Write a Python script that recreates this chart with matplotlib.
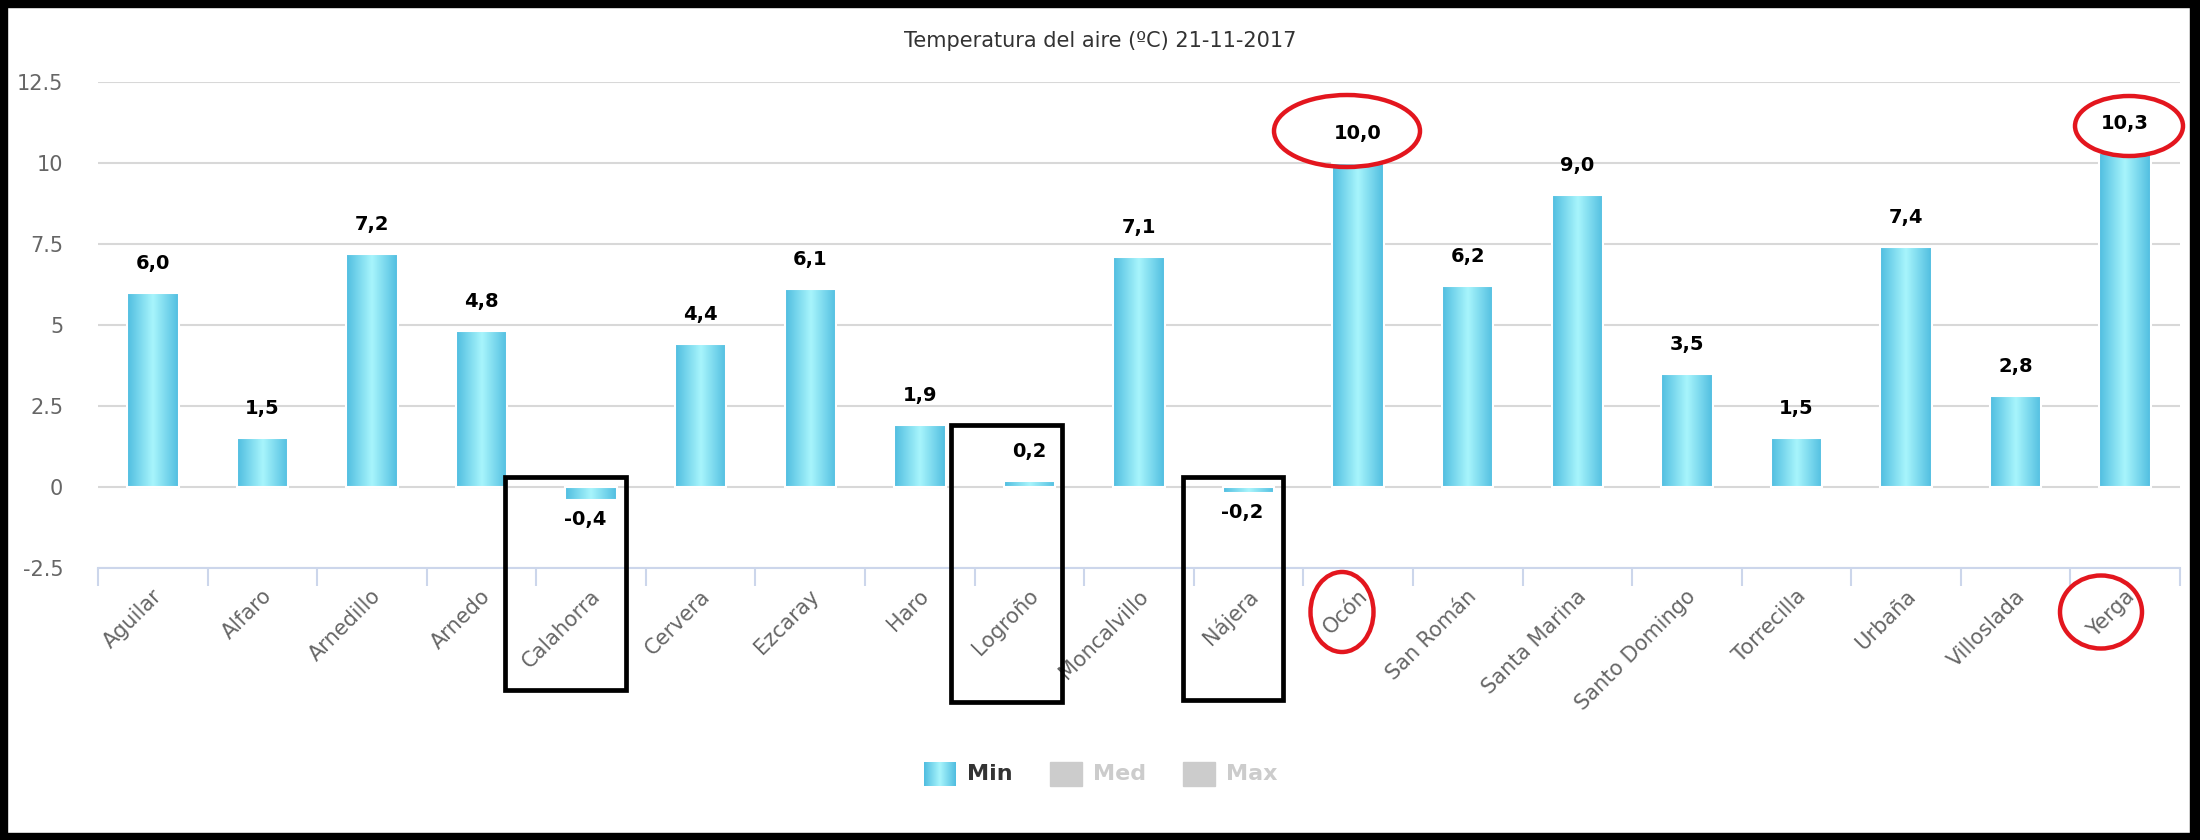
import numpy as np
import matplotlib
matplotlib.use("Agg")
import matplotlib.pyplot as plt
from matplotlib.patches import Rectangle, Ellipse
from matplotlib.colors import LinearSegmentedColormap
from matplotlib.transforms import ScaledTranslation

plt.rcParams['axes.unicode_minus'] = False
plt.rcParams['font.family'] = ['DejaVu Sans']

title = "Temperatura del aire (ºC) 21-11-2017"
stations = ["Aguilar", "Alfaro", "Arnedillo", "Arnedo", "Calahorra", "Cervera",
            "Ezcaray", "Haro", "Logroño", "Moncalvillo", "Nájera", "Ocón",
            "San Román", "Santa Marina", "Santo Domingo", "Torrecilla", "Urbaña",
            "Villoslada", "Yerga"]
t_min = [6.0, 1.5, 7.2, 4.8, -0.4, 4.4, 6.1, 1.9, 0.2, 7.1, -0.2, 10.0,
         6.2, 9.0, 3.5, 1.5, 7.4, 2.8, 10.3]
series_names = ["Min", "Med", "Max"]
y_ticks = [-2.5, 0, 2.5, 5, 7.5, 10, 12.5]

W, H = 2200, 840
edge_c, mid_c = '#4fbde0', '#a8f5fc'
grad = LinearSegmentedColormap.from_list("bar", [(0, edge_c), (0.5, mid_c), (1, edge_c)])
gvals = np.linspace(0, 1, 128).reshape(1, -1)

fig = plt.figure(figsize=(W / 100, H / 100), dpi=100)
fig.patch.set_facecolor('white')
ax = fig.add_axes([98 / W, 1 - 568 / H, (2180 - 98) / W, (568 - 82) / H])

x = np.arange(len(stations))
bar_w = 0.47
# gradient bars
for i, v in enumerate(t_min):
    ax.imshow(gvals, cmap=grad, aspect='auto', interpolation='bilinear',
              extent=[i - bar_w / 2, i + bar_w / 2, min(0, v), max(0, v)], zorder=2)
ax.bar(x, t_min, width=bar_w, facecolor='none', edgecolor='white', linewidth=1.5, zorder=3)

# value labels
for i, v in enumerate(t_min):
    txt = f"{v:.1f}".replace(".", ",")
    if v >= 0:
        ax.annotate(txt, (i, v), xytext=(0, 20), textcoords='offset pixels',
                    ha='center', va='bottom', fontsize=14, fontweight='bold', color='black')
    else:
        ax.annotate(txt, (i, v), xytext=(-6, -10), textcoords='offset pixels',
                    ha='center', va='top', fontsize=14, fontweight='bold', color='black')

ax.set_xlim(-0.5, len(stations) - 0.5)
ax.set_ylim(-2.5, 12.5)
ax.set_yticks(y_ticks)
ax.set_yticklabels([f"{t:g}" for t in y_ticks], fontsize=15, color='#666666')
ax.tick_params(axis='y', length=0, pad=25)
ax.yaxis.grid(True, color='#d8d8d8', linewidth=1.5)
ax.set_axisbelow(True)

ax.set_xticks(x)
ax.set_xticklabels(stations, rotation=45, ha='right', va='center',
                   rotation_mode='anchor', fontsize=15, color='#666666')
ax.set_xticks(np.arange(len(stations) + 1) - 0.5, minor=True)
ax.tick_params(axis='x', which='major', length=0, pad=18)
ax.tick_params(axis='x', which='minor', length=13, color='#ccd6eb', width=1.5)
shift = ScaledTranslation(6 / 100, 0, fig.dpi_scale_trans)
for lab in ax.get_xticklabels():
    lab.set_transform(lab.get_transform() + shift)

for s in ['top', 'left', 'right']:
    ax.spines[s].set_visible(False)
ax.spines['bottom'].set_color('#ccd6eb')
ax.spines['bottom'].set_linewidth(1.5)

fig.text(0.5, 1 - 41 / H, title, ha='center', va='center', fontsize=15, color='#333333')

# legend (Min shown, Med / Max hidden)
legend_x = [924, 1050, 1183]
for k, name in enumerate(series_names):
    x0 = legend_x[k]
    if k == 0:
        sw = fig.add_axes([x0 / W, 1 - 786 / H, 32 / W, 24 / H])
        sw.imshow(gvals, cmap=grad, aspect='auto', interpolation='bilinear')
        sw.axis('off')
        col = '#333333'
    else:
        fig.patches.append(Rectangle((x0 / W, 1 - 786 / H), 32 / W, 24 / H,
                                     transform=fig.transFigure, color='#cccccc'))
        col = '#cccccc'
    fig.text((x0 + 43) / W, 1 - 774 / H, name, ha='left', va='center',
             fontsize=16, fontweight='bold', color=col)

# hand-drawn highlights (image pixel coords)
for (xa, ya, xb, yb) in [(505, 477, 626, 690), (951, 425, 1062, 702), (1183, 477, 1283, 700)]:
    fig.patches.append(Rectangle((xa / W, 1 - yb / H), (xb - xa) / W, (yb - ya) / H,
                                 transform=fig.transFigure, fill=False,
                                 edgecolor='black', linewidth=3.4, zorder=10))
for (cx, cy, ew, eh) in [(1347, 131, 146, 72), (2129, 126, 108, 60),
                         (1342, 612, 63, 80), (2101, 612, 82, 73)]:
    fig.patches.append(Ellipse((cx / W, 1 - cy / H), ew / W, eh / H,
                               transform=fig.transFigure, fill=False,
                               edgecolor='#e3161e', linewidth=3.2, zorder=10))

# black frame around the screenshot
for (xa, ya, w, h) in [(0, 0, W, 7), (0, H - 7, W, 7), (0, 0, 7, H), (W - 10, 0, 10, H)]:
    fig.patches.append(Rectangle((xa / W, 1 - (ya + h) / H), w / W, h / H,
                                 transform=fig.transFigure, color='black', zorder=20))

fig.savefig("out.png", dpi=100)
